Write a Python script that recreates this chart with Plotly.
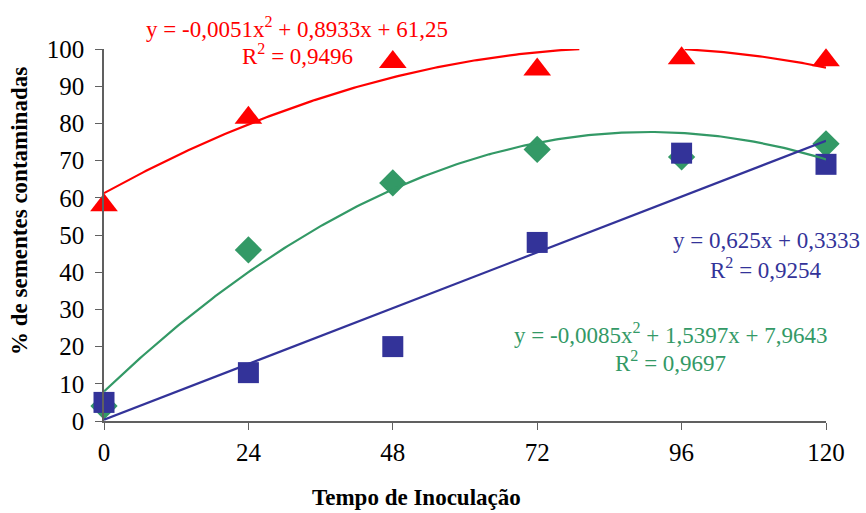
import numpy as np
import plotly.graph_objects as go

# Inoculation time (hours)
tempo = [0, 24, 48, 72, 96, 120]

# % of contaminated seeds per series
serie_vermelha = [58, 81.5, 96.5, 94.5, 97.5, 97]
serie_verde = [4, 46, 64, 73, 71, 74.5]
serie_azul = [5, 13, 20, 48, 72, 69]

# Fitted trendline coefficients (highest degree first), as printed on the chart
coef_vermelha = [-0.0051, 0.8933, 61.25]
coef_verde = [-0.0085, 1.5397, 7.9643]
coef_azul = [0.625, 0.3333]

eq_vermelha = ["y = -0,0051x<sup>2</sup> + 0,8933x + 61,25", "R<sup>2</sup> = 0,9496"]
eq_verde = ["y = -0,0085x<sup>2</sup> + 1,5397x + 7,9643", "R<sup>2</sup> = 0,9697"]
eq_azul = ["y = 0,625x + 0,3333", "R<sup>2</sup> = 0,9254"]

x_ticks = [0, 24, 48, 72, 96, 120]
y_ticks = list(range(0, 101, 10))

titulo_x = "Tempo de Inoculação"
titulo_y = "% de sementes contaminadas"

VERMELHO = "#FF0000"
VERDE = "#339966"
AZUL = "#333399"
FONT = "Liberation Serif"

fig = go.Figure()

# markers
fig.add_trace(go.Scatter(x=tempo, y=serie_verde, mode="markers",
                         marker=dict(symbol="diamond", size=21, color=VERDE)))
fig.add_trace(go.Scatter(x=tempo, y=serie_azul, mode="markers",
                         marker=dict(symbol="square", size=21, color=AZUL)))
fig.add_trace(go.Scatter(x=tempo, y=serie_vermelha, mode="markers",
                         marker=dict(symbol="triangle-up", size=24, color=VERMELHO)))

# trendlines evaluated from the printed coefficients
xs = np.linspace(0, 120, 241)
for coef, cor in [(coef_verde, VERDE), (coef_azul, AZUL), (coef_vermelha, VERMELHO)]:
    ys = np.polyval(coef, xs)
    ys = [float(v) if v <= 100 else None for v in ys]
    fig.add_trace(go.Scatter(x=xs, y=ys, mode="lines", connectgaps=False,
                             line=dict(color=cor, width=2.2)))

# pixel -> paper helpers (plot area: x 104..826, y 49..421 px)
def px(xp):
    return (xp - 104) / 722.0

def py(yp):
    return (421 - yp) / 372.0

def eq_label(lines, x, y1, y2, cor):
    for txt, yy in zip(lines, (y1, y2)):
        fig.add_annotation(x=x, y=yy, xref="paper", yref="paper", text=txt,
                           showarrow=False, xanchor="center", yanchor="middle",
                           font=dict(family=FONT, size=23, color=cor))

eq_label(eq_vermelha, px(297), py(27), py(55), VERMELHO)
eq_label(eq_azul, px(766), py(240), py(268), AZUL)
eq_label(eq_verde, px(670), py(333), py(361), VERDE)

# axis titles
fig.add_annotation(x=px(416), y=py(497), xref="paper", yref="paper",
                   text="<b>" + titulo_x + "</b>", showarrow=False,
                   xanchor="center", yanchor="middle",
                   font=dict(family=FONT, size=23, color="black"))
fig.add_annotation(x=px(20), y=py(211), xref="paper", yref="paper",
                   text="<b>" + titulo_y + "</b>", showarrow=False, textangle=-90,
                   xanchor="center", yanchor="middle",
                   font=dict(family=FONT, size=23, color="black"))

fig.update_layout(
    width=866, height=513,
    margin=dict(l=104, r=40, t=49, b=92),
    paper_bgcolor="white", plot_bgcolor="white",
    showlegend=False,
    font=dict(family=FONT, color="black"),
    xaxis=dict(range=[0, 120], tickvals=x_ticks, ticktext=[str(v) for v in x_ticks],
               showgrid=False, zeroline=False, showline=True, linecolor="#606060",
               linewidth=1.5, ticks="outside", ticklen=7, tickcolor="#606060",
               tickfont=dict(family=FONT, size=25, color="black"),
               ticklabelstandoff=1),
    yaxis=dict(range=[0, 100], tickvals=y_ticks, ticktext=[str(v) for v in y_ticks],
               showgrid=False, zeroline=False, showline=True, linecolor="#606060",
               linewidth=1.5, ticks="outside", ticklen=7, tickcolor="#606060",
               tickfont=dict(family=FONT, size=25, color="black"),
               ticklabelstandoff=6),
)

fig.update_traces(cliponaxis=False, selector=dict(mode="markers"))

fig.write_html("out.html")
